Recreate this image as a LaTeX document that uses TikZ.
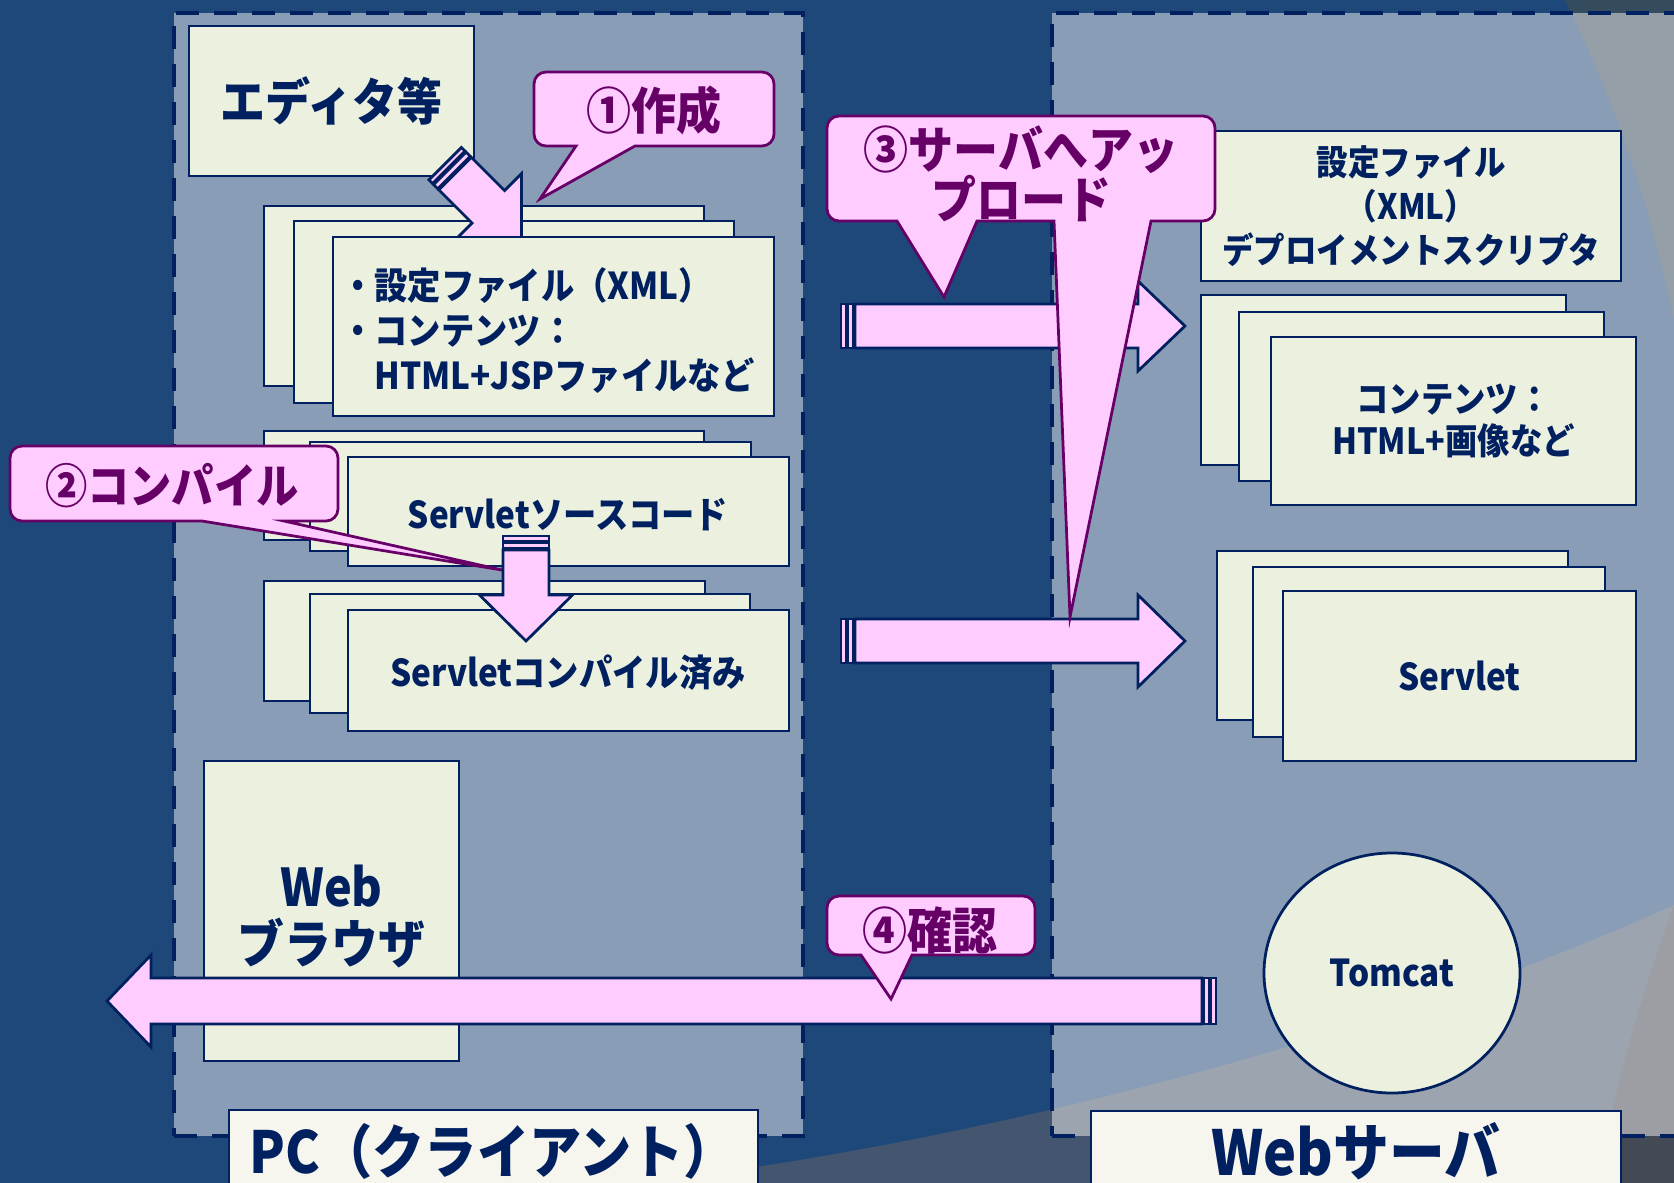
\documentclass[tikz,border=0pt]{standalone}
\usepackage{fontspec}
\newfontfamily\jp{Noto Sans CJK JP}[FakeStretch=0.9]
\usetikzlibrary{shapes.geometric}
\definecolor{bgblue}{RGB}{31,72,122}
\definecolor{swtop}{RGB}{53,75,94}
\definecolor{swbot}{RGB}{68,86,111}
\definecolor{swcorner}{RGB}{68,74,85}
\definecolor{panelc}{RGB}{245,243,242}
\definecolor{navy}{RGB}{0,32,96}
\definecolor{boxfill}{RGB}{235,241,222}
\definecolor{lblfill}{RGB}{246,246,239}
\definecolor{pinkf}{RGB}{255,204,255}
\definecolor{cpurple}{RGB}{102,0,102}
\newcommand\myfs[2]{\jp\bfseries\fontsize{#1}{#2}\selectfont}
\newcommand\mybox[7]{\node[#2,minimum width={(#5-#3)*1pt},minimum height={(#6-#4)*1pt}] (#1) at ({(#3+#5)/2},{(#4+#6)/2}) {#7};}
\newcommand\blockarrow[6]{%
  \begin{scope}[shift={#1},rotate=#2]
    \draw[arrowst] (1,-#3) rectangle (6,#3);
    \draw[arrowst] (7.5,-#3) rectangle (13.5,#3);
    \draw[arrowst] (15,-#3) -- (#5,-#3) -- (#5,-#4) -- (#6,0) -- (#5,#4) -- (#5,#3) -- (15,#3) -- cycle;
  \end{scope}}
\begin{document}
\begin{tikzpicture}[x=1pt,y=-1pt,
  box/.style={draw=navy,line width=2.75pt,fill=boxfill,inner sep=0pt,text=navy},
  lbl/.style={draw=navy,line width=2.75pt,fill=lblfill,inner sep=0pt},
  txt/.style={text=navy,inner sep=0pt},
  ctxt/.style={text=cpurple,inner sep=0pt},
  callout/.style={draw=cpurple,line width=2.75pt,fill=pinkf,line join=miter},
  arrowst/.style={draw=navy,line width=2.75pt,fill=pinkf,line join=miter},
  panel/.style={draw=navy,line width=4.5pt,dash pattern=on 23pt off 15pt,fill=panelc,fill opacity=0.5,inner sep=0pt}]
\useasboundingbox (0,0) rectangle (1674,1183);
\clip (0,0) rectangle (1674,1183);
% background
\fill[bgblue] (0,0) rectangle (1674,1183);
\fill[swtop] (1565,0) .. controls (1610,90) and (1650,200) .. (1674,320) -- (1674,0) -- cycle;
\fill[swbot] (640,1183) .. controls (1000,1140) and (1400,1030) .. (1674,905) -- (1674,1183) -- cycle;
\fill[swcorner] (1674,905) .. controls (1640,1000) and (1612,1090) .. (1600,1183) -- (1674,1183) -- cycle;
% panels
\mybox{pcpanel}{panel}{174}{13}{803}{1136}{}
\mybox{svpanel}{panel}{1052}{13}{1720}{1136}{}
% editor
\mybox{ed}{box,font={\myfs{50}{60}}}{189}{26}{474}{176}{エディタ等}
% stack 1
\mybox{s1a}{box}{264}{206}{704}{386}{}
\mybox{s1b}{box}{294}{221}{734}{403}{}
\blockarrow{(444.5,163)}{-45}{23}{47}{62}{109}
\mybox{s1c}{box}{333}{237}{774}{416}{}
\node[txt,font={\myfs{37}{45}},align=left,anchor=west] (s1t) at (341,331) {・設定ファイル（XML）\\・コンテンツ：\\　HTML+JSPファイルなど};
% callout 1
\draw[callout] (540,199) -- (635,146) {[rounded corners=12pt] -- (774,146) -- (774,72) -- (534,72) -- (534,146)} -- (576,146) -- cycle;
\node[ctxt,font={\myfs{50}{60}}] (c1) at (654,110) {①作成};
% stack 2
\mybox{s2a}{box}{264}{431}{704}{540}{}
\mybox{s2b}{box}{310}{442}{751}{551}{}
\mybox{s2c}{box}{348}{457}{789}{566}{}
\node[txt,font={\myfs{37}{45}}] (s2t) at (568,515) {Servletソースコード};
% stack 3
\mybox{s3a}{box}{264}{581}{705}{701}{}
\mybox{s3b}{box}{310}{594}{750}{713}{}
\mybox{s3c}{box}{348}{610}{789}{731}{}
\node[txt,font={\myfs{37}{45}}] (s3t) at (568,673) {Servletコンパイル済み};
% callout 2
\draw[callout] (502,570) -- (284,521) {[rounded corners=12pt] -- (338,521) -- (338,446) -- (10,446) -- (10,521)} -- (202,521) -- cycle;
\node[ctxt,font={\myfs{47}{55}}] (c2) at (172,486) {②コンパイル};
% compile arrow
\blockarrow{(526,535)}{-90}{23}{46.5}{60}{106}
% browser
\mybox{br}{box}{204}{761}{459}{1061}{}
\node[txt,font={\myfs{52}{57}},align=center] (brt) at (331.5,916) {Web\\ブラウザ};
% return arrow + callout 4
\blockarrow{(1217,1001)}{180}{23}{46}{1066}{1110}
\draw[callout] (891,999) -- (912,955) {[rounded corners=12pt] -- (1035,955) -- (1035,896) -- (827,896) -- (827,955)} -- (861,955) -- cycle;
\node[ctxt,font={\myfs{50}{55}}] (c4) at (930,930) {④確認};
% right boxes
\mybox{rs}{box,font={\myfs{35}{44}},align=center}{1201}{131}{1621}{281}{設定ファイル\\（XML）\\デプロイメントスクリプタ}
\mybox{rc1}{box}{1201}{295}{1566}{465}{}
\mybox{rc2}{box}{1239}{312}{1604}{481}{}
\mybox{rc3}{box,font={\myfs{36}{42}},align=center}{1271}{337}{1636}{505}{コンテンツ：\\HTML+画像など}
\mybox{rv1}{box}{1217}{551}{1568}{720}{}
\mybox{rv2}{box}{1253}{567}{1605}{737}{}
\mybox{rv3}{box,font={\myfs{37}{45}}}{1283}{591}{1636}{761}{Servlet}
\node[box,ellipse,minimum width=256pt,minimum height=240pt,font={\myfs{37}{45}}] (tc) at (1392,973) {Tomcat};
% upload arrows
\blockarrow{(840,326)}{0}{22}{45}{298}{345}
\blockarrow{(840,641)}{0}{22}{46}{298}{345}
% callout 3
\draw[callout] (944,297) -- (977,221) -- (1054,221) -- (1070,617) -- (1151,221) {[rounded corners=12pt] -- (1215,221) -- (1215,116) -- (827,116) -- (827,221)} -- (897,221) -- cycle;
\node[ctxt,font={\myfs{50}{50}},align=center] (c3) at (1021,174) {③サーバへアッ\\プロード};
% labels
\mybox{pcl}{lbl}{229}{1110}{758}{1200}{}
\node[txt,font={\myfs{58}{60}}] (pct) at (493,1151) {PC（クライアント）};
\mybox{wsl}{lbl}{1091}{1111}{1621}{1200}{}
\node[txt,font={\myfs{62}{64}}] (wst) at (1356,1151) {Webサーバ};
\end{tikzpicture}
\end{document}
